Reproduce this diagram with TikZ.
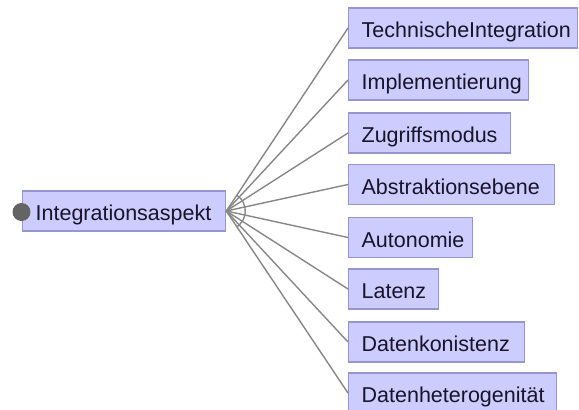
\documentclass[tikz,border=0pt]{standalone}
\usepackage{fontspec}
\setmainfont{Liberation Sans}
\definecolor{featfill}{RGB}{204,204,255}
\definecolor{featborder}{RGB}{150,150,205}
\definecolor{feattext}{RGB}{25,20,40}
\definecolor{linkgray}{RGB}{135,135,135}
\definecolor{dotgray}{RGB}{100,100,100}
\begin{document}
\begin{tikzpicture}[x=1pt,y=-1pt,
  feat/.style={draw=featborder, fill=featfill, line width=1.3pt,
    minimum height=40pt, inner xsep=13pt, inner ysep=0pt,
    text height=19.5pt, text depth=0pt, align=left, anchor=west,
    font=\fontsize{21.5pt}{24pt}\selectfont, text=feattext},
  link/.style={draw=linkgray, line width=1.4pt},
  rootdot/.style={circle, fill=dotgray, minimum size=18pt, inner sep=0pt}]
\useasboundingbox (0,0) rectangle (579,410);
\clip (0,0) rectangle (579,410);

% root feature
\node[feat, text width=177pt] (root) at (22,211) {Integrationsaspekt};
\node[rootdot] (dot) at (21.5,212) {};

% child features
\node[feat, text width=203pt] (c1) at (348,28)    {TechnischeIntegration};
\node[feat, text width=154pt] (c2) at (348,80)    {Implementierung};
\node[feat, text width=136pt] (c3) at (348,133)   {Zugriffsmodus};
\node[feat, text width=180pt] (c4) at (348,184.5) {Abstraktionsebene};
\node[feat, text width=98pt]  (c5) at (348,237.5) {Autonomie};
\node[feat, text width=64pt]  (c6) at (348,289)   {Latenz};
\node[feat, text width=150pt] (c7) at (348,342)   {Datenkonistenz};
\node[feat, text width=182pt] (c8) at (348,393)   {Datenheterogenität};

% group connectors
\foreach \c in {c1,c2,c3,c4,c5,c6,c7,c8}
  \draw[link] (root.east) -- (\c.west);

% group arc
\draw[link] (root.east) ++(-56:19) arc[start angle=-56, end angle=56, radius=19];
\end{tikzpicture}
\end{document}
